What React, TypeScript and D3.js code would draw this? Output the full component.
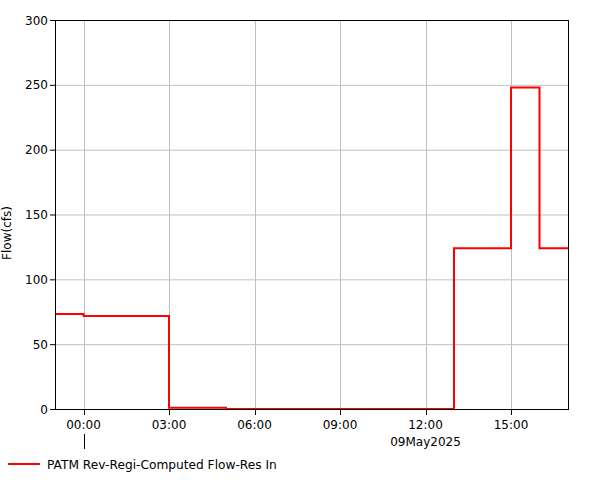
import React from "react";
import * as d3 from "d3";

// step series: value holds from time (hours relative to 09May2025 00:00)
const stepHours = [-1, 0, 3, 5, 13, 15, 16, 17];
const stepValues = [73.3, 71.8, 1, 0, 124, 248, 124, 124];
const yTicks = [0, 50, 100, 150, 200, 250, 300];
const xTickHours = [0, 3, 6, 9, 12, 15];
const xTickLabels = ["00:00", "03:00", "06:00", "09:00", "12:00", "15:00"];
const dateLabel = "09May2025";
const seriesName = "PATM Rev-Regi-Computed Flow-Res In";
const yLabel = "Flow(cfs)";

const W = 601, H = 480;
const M = { left: 55, right: 568, top: 20, bottom: 409 };
const FONT = "DejaVu Sans, Verdana, sans-serif";

export default function App() {
  const base = new Date(2025, 4, 9, 0, 0, 0).getTime();
  const t = (h: number) => new Date(base + h * 3600 * 1000);
  const x = d3.scaleTime().domain([t(-1), t(17)]).range([M.left, M.right]);
  const y = d3.scaleLinear().domain([0, 300]).range([M.bottom, M.top]);
  const pts: [number, number][] = stepHours.map((h, i) => [x(t(h)), y(stepValues[i])]);
  const line = d3.line().curve(d3.curveStepAfter)(pts) || "";

  return (
    <div style={{ position: "absolute", left: 0, top: 0 }}>
      <svg width={W} height={H} style={{ display: "block", background: "#fff" }}>
        {/* grid */}
        {yTicks.map((v) => (
          <line key={"gy" + v} x1={M.left} x2={M.right} y1={y(v) + 0.5} y2={y(v) + 0.5} stroke="#c0c0c0" strokeWidth={1} />
        ))}
        {xTickHours.map((h) => (
          <line key={"gx" + h} x1={Math.round(x(t(h))) + 0.5} x2={Math.round(x(t(h))) + 0.5} y1={M.top} y2={M.bottom} stroke="#c0c0c0" strokeWidth={1} />
        ))}
        {/* series */}
        <path d={line} fill="none" stroke="#ff0000" strokeWidth={2} />
        {/* frame */}
        <rect x={M.left + 0.5} y={M.top + 0.5} width={M.right - M.left} height={M.bottom - M.top} fill="none" stroke="#000" strokeWidth={1} />
        {/* y ticks */}
        {yTicks.map((v) => (
          <g key={"ty" + v}>
            <line x1={M.left - 5} x2={M.left} y1={y(v) + 0.5} y2={y(v) + 0.5} stroke="#000" />
            <text x={M.left - 7} y={y(v) + 4.5} textAnchor="end" fontFamily={FONT} fontSize={12} fill="#000">{v}</text>
          </g>
        ))}
        {/* x ticks */}
        {xTickHours.map((h, i) => (
          <g key={"tx" + h}>
            <line x1={Math.round(x(t(h))) + 0.5} x2={Math.round(x(t(h))) + 0.5} y1={M.bottom} y2={M.bottom + 6} stroke="#000" />
            <text x={x(t(h))} y={M.bottom + 20} textAnchor="middle" fontFamily={FONT} fontSize={12} fill="#000">{xTickLabels[i]}</text>
          </g>
        ))}
        <line x1={Math.round(x(t(0))) + 0.5} x2={Math.round(x(t(0))) + 0.5} y1={434} y2={449} stroke="#000" />
        <text x={x(t(12))} y={M.bottom + 37} textAnchor="middle" fontFamily={FONT} fontSize={12} fill="#000">{dateLabel}</text>
        {/* y label */}
        <text transform={`translate(11,233) rotate(-90)`} textAnchor="middle" fontFamily={FONT} fontSize={12} fill="#000">{yLabel}</text>
        {/* legend */}
        <line x1={8} x2={40} y1={464} y2={464} stroke="#ff0000" strokeWidth={2} />
        <text x={47} y={468.5} fontFamily={FONT} fontSize={12.2} fill="#000">{seriesName}</text>
      </svg>
    </div>
  );
}
